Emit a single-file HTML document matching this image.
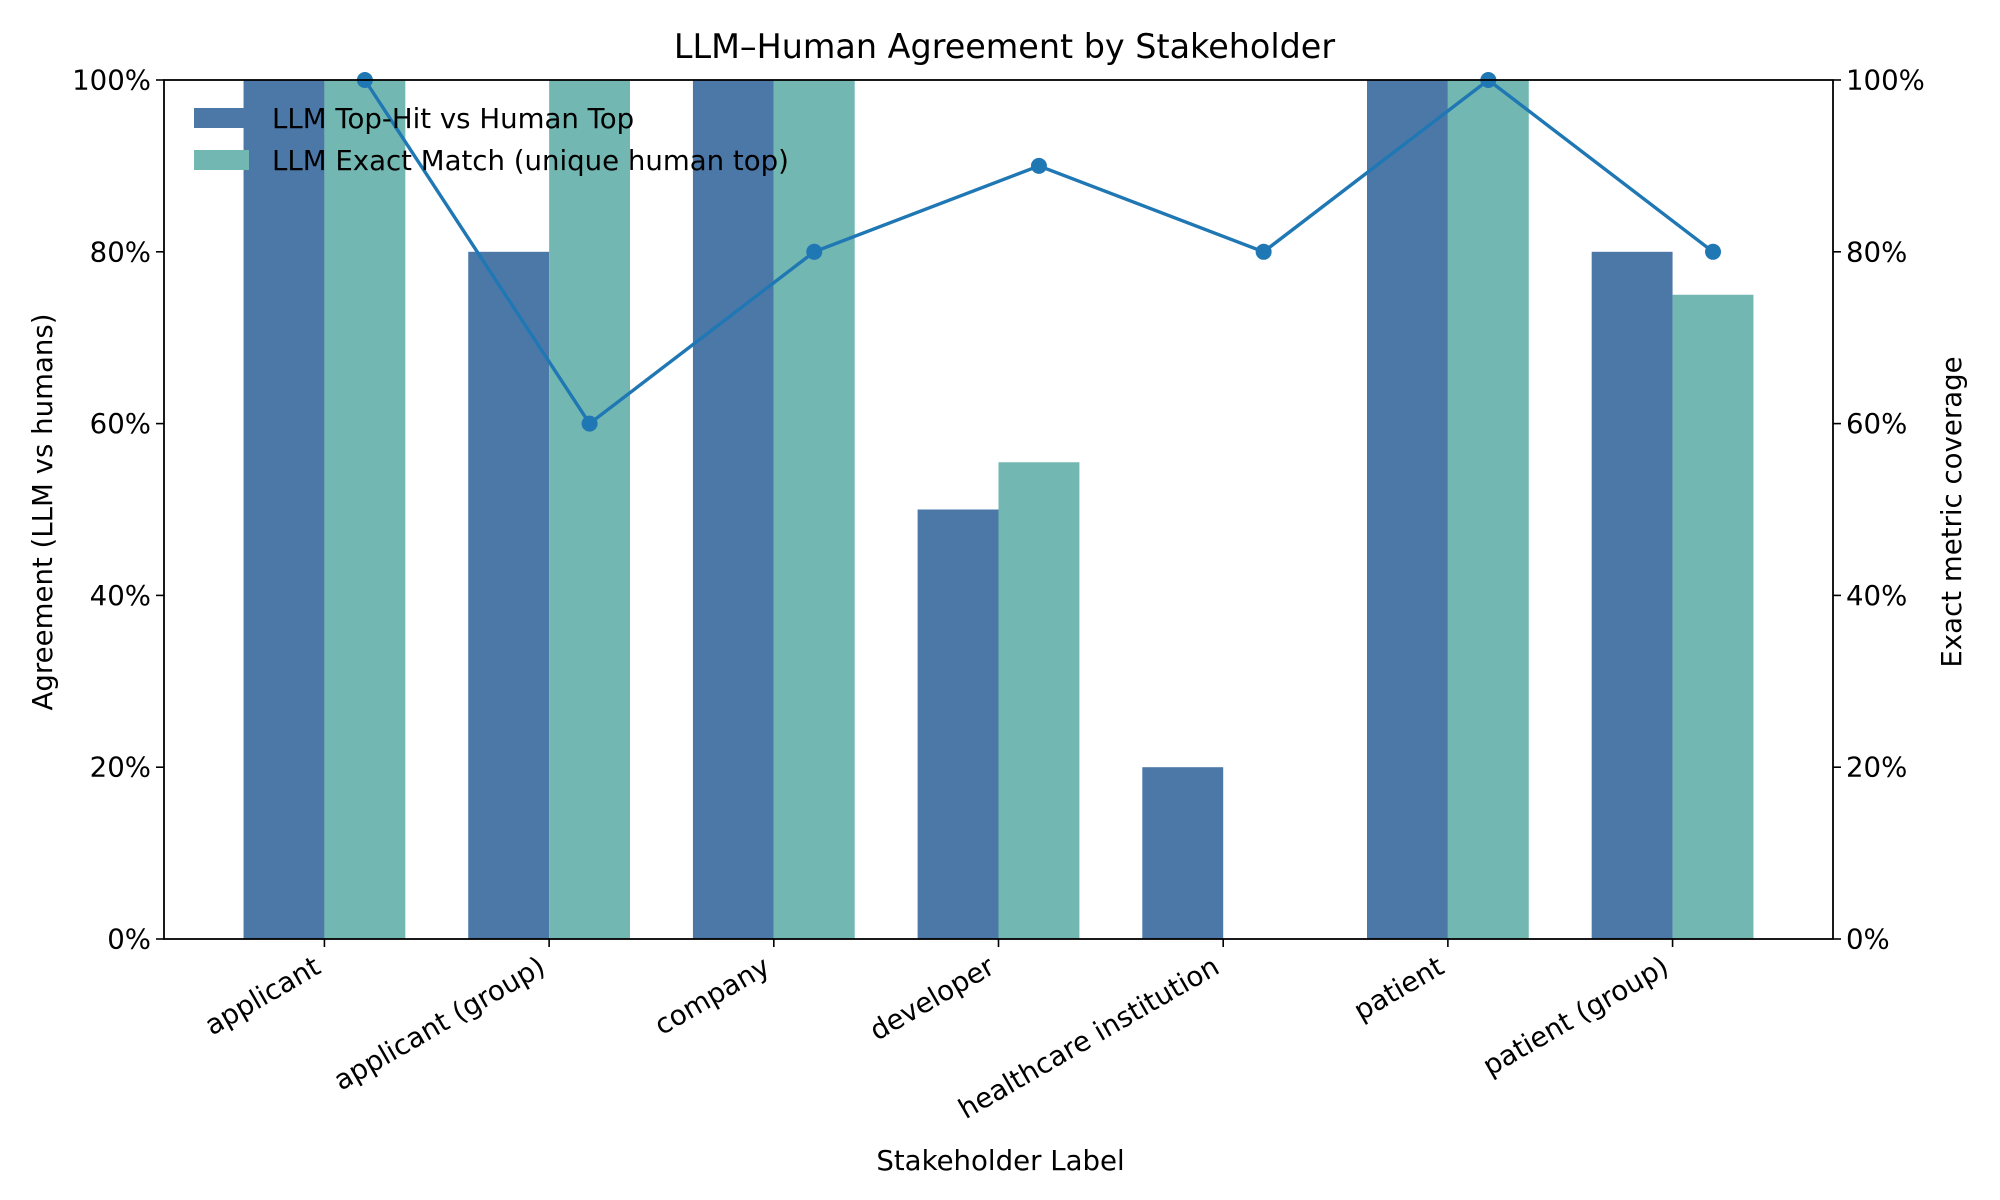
<!DOCTYPE html>
<html><head><meta charset="utf-8"><style>body{margin:0;background:#fff}svg{display:block;font-family:"DejaVu Sans","Liberation Sans",sans-serif}</style></head>
<body>
<svg id="chart" width="2000" height="1200" viewBox="0 0 2000 1200" xmlns="http://www.w3.org/2000/svg"></svg>
<script>
const categories=["applicant","applicant (group)","company","developer","healthcare institution","patient","patient (group)"];
const topHit=[100,80,100,50,20,100,80];
const exactMatch=[100,100,100,55.5,0,100,75];
const coverage=[100,60,80,90,80,100,80];
const yTicks=[0,20,40,60,80,100];
const NS="http://www.w3.org/2000/svg";
const svg=document.getElementById('chart');
const L=164,R=1833,T=80,B=939;
const xmin=-0.714,xmax=6.714;
function xs(v){return L+(v-xmin)/(xmax-xmin)*(R-L);}
function ys(v){return B-v/100*(B-T);}
function el(tag,attrs,parent){const e=document.createElementNS(NS,tag);for(const k in attrs)e.setAttribute(k,attrs[k]);(parent||svg).appendChild(e);return e;}
const bw=0.36;
const FS=27.6;
const gBars=el('g',{});


categories.forEach((c,i)=>{
  let r=el('rect',{x:xs(i-bw),y:ys(topHit[i]),width:xs(i)-xs(i-bw),height:B-ys(topHit[i]),fill:'#4c78a8'},gBars);
  
  
  let r2=el('rect',{x:xs(i),y:ys(exactMatch[i]),width:xs(i+bw)-xs(i),height:B-ys(exactMatch[i]),fill:'#72b7b2'},gBars);
  
  
});
const pts=coverage.map((v,i)=>[xs(i+bw/2),ys(v)]);
const line=el('polyline',{points:pts.map(p=>p.join(',')).join(' '),fill:'none',stroke:'#1f77b4','stroke-width':3.4});


pts.forEach((p,i)=>{const c=el('circle',{cx:p[0],cy:p[1],r:8,fill:'#1f77b4'});

});
const frame=el('rect',{x:L,y:T,width:R-L,height:B-T,fill:'none',stroke:'#000','stroke-width':1.8});


yTicks.forEach(v=>{
  const y=ys(v);
  el('line',{x1:L-8,x2:L,y1:y,y2:y,stroke:'#000','stroke-width':1.6});
  el('line',{x1:R,x2:R+8,y1:y,y2:y,stroke:'#000','stroke-width':1.6});
  let t=el('text',{x:L-13,y:y+9.5,'text-anchor':'end','font-size':FS});t.textContent=v+'%';
  
  
  let t2=el('text',{x:R+13,y:y+9.5,'font-size':FS});t2.textContent=v+'%';
  
  
});
categories.forEach((c,i)=>{
  const x=xs(i);
  el('line',{x1:x,x2:x,y1:B,y2:B+8,stroke:'#000','stroke-width':1.6});
  let t=el('text',{x:0,y:0,'text-anchor':'end','font-size':FS,transform:`translate(${x-2},${B+33}) rotate(-30)`});
  t.textContent=c;
  
  
});
function txt(s,a,name){const t=el('text',a);t.textContent=s;return t;}
txt('LLM–Human Agreement by Stakeholder',{x:(L+R)/2+6,y:58,'text-anchor':'middle','font-size':33.4},'chart-title');
txt('Stakeholder Label',{x:(L+R)/2+2,y:1170,'text-anchor':'middle','font-size':FS},'x-axis-title');
txt('Agreement (LLM vs humans)',{x:0,y:0,'text-anchor':'middle','font-size':FS,transform:'translate(52,512) rotate(-90)'},'y-axis-title-left');
txt('Exact metric coverage',{x:0,y:0,'text-anchor':'middle','font-size':FS,transform:'translate(1961,512) rotate(-90)'},'y-axis-title-right');
const lg=el('g',{});


el('rect',{x:194,y:108,width:55,height:20,fill:'#4c78a8'},lg);
el('rect',{x:194,y:150,width:55,height:20,fill:'#72b7b2'},lg);
let l1=el('text',{x:272,y:128,'font-size':FS},lg);l1.textContent='LLM Top-Hit vs Human Top';


let l2=el('text',{x:272,y:170,'font-size':FS},lg);l2.textContent='LLM Exact Match (unique human top)';


</script>
</body></html>
